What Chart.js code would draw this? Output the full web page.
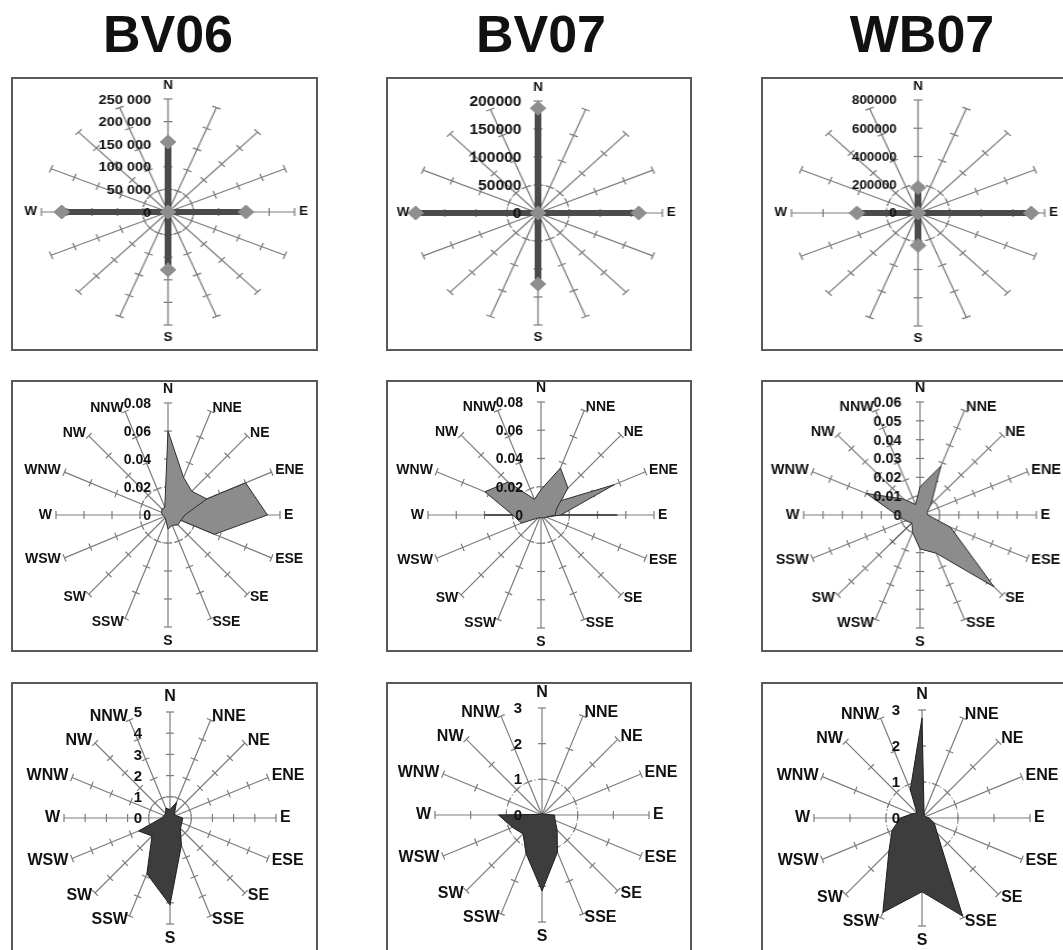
<!DOCTYPE html>
<html>
<head>
<meta charset="utf-8">
<script src="https://cdn.jsdelivr.net/npm/chart.js@4.4.1/dist/chart.umd.min.js"></script>
<style>
  html, body { margin: 0; padding: 0; background: #fff; overflow: hidden; }
  body { width: 1063px; height: 950px; position: relative; font-family: "Liberation Sans", Arial, sans-serif; }
  .title { position: absolute; top: 4px; width: 240px; text-align: center; font-weight: bold; font-size: 52px; line-height: 60px; color: #111; }
  .box { position: absolute; box-sizing: border-box; border: 2px solid #5a5a5a; background: #fff; }
  canvas { position: absolute; }
</style>
</head>
<body>
<div class="title" style="left:48px">BV06</div>
<div class="title" style="left:421px">BV07</div>
<div class="title" style="left:802px">WB07</div>

<div class="box" style="left:11px;top:77px;width:307px;height:274px"></div>
<div class="box" style="left:386px;top:77px;width:306px;height:274px"></div>
<div class="box" style="left:761px;top:77px;width:320px;height:274px"></div>
<div class="box" style="left:11px;top:380px;width:307px;height:272px"></div>
<div class="box" style="left:386px;top:380px;width:306px;height:272px"></div>
<div class="box" style="left:761px;top:380px;width:320px;height:272px"></div>
<div class="box" style="left:11px;top:682px;width:307px;height:300px"></div>
<div class="box" style="left:386px;top:682px;width:306px;height:300px"></div>
<div class="box" style="left:761px;top:682px;width:320px;height:300px"></div>

<script>
// direction labels
const dirs = ['N','NNE','NE','ENE','E','ESE','SE','SSE','S','SSW','SW','WSW','W','WNW','NW','NNW'];
// WB07 frequency panel prints WSW / SSW swapped, kept as in the figure
const dirsWB07 = ['N','NNE','NE','ENE','E','ESE','SE','SSE','S','WSW','SW','SSW','W','WNW','NW','NNW'];
const dirsCardinal = ['N','','','','E','','','','S','','','','W','','',''];

// row 1 : counts per main direction
const bv06Counts = [155000,0,0,0,154000,0,0,0,128000,0,0,0,210000,0,0,0];
const bv07Counts = [187000,0,0,0,162000,0,0,0,127000,0,0,0,197000,0,0,0];
const wb07Counts = [180000,0,0,0,716000,0,0,0,230000,0,0,0,386000,0,0,0];
const bv06CountTicks = ['0','50 000','100 000','150 000','200 000','250 000'];
const bv07CountTicks = ['0','50000','100000','150000','200000'];
const wb07CountTicks = ['0','200000','400000','600000','800000'];

// row 2 : relative frequency (overlaid series)
const bv06FreqA = [0.060,0.029,0.024,0.030,0.012,0.010,0.010,0.008,0.010,0.004,0.003,0.003,0.004,0.005,0.006,0.006];
const bv06FreqB = [0,0,0,0.060,0.071,0.036,0,0,0,0,0,0,0,0,0,0];
const bv07FreqA = [0.018,0.036,0.027,0.012,0.010,0.004,0.003,0.002,0.002,0.002,0.003,0.015,0.020,0.043,0.033,0.012];
const bv07FreqB = [0,0.008,0.012,0.056,0.014,0.004,0,0,0,0,0,0,0,0,0,0];
const bv07FreqC = [0,0,0,0,0.054,0,0,0,0,0,0,0,0.040,0,0,0];
const wb07FreqA = [0.015,0.028,0.008,0.004,0.004,0.017,0.054,0.022,0.018,0.010,0.006,0.008,0.012,0.030,0.012,0.006];
const wb07FreqB = [0,0,0,0,0,0.006,0.033,0.010,0,0,0.022,0,0,0,0,0];
const freqTicks08 = ['0','0.02','0.04','0.06','0.08'];
const freqTicks06 = ['0','0.01','0.02','0.03','0.04','0.05','0.06'];

// row 3 : mean value per direction
const bv06Speed = [0.4,0.8,0.3,0.3,0.6,0.6,0.7,1.4,4.1,2.85,1.2,1.6,0.4,0.3,0.3,0.5];
const bv07Speed = [0.05,0.05,0.05,0.05,0.35,0.4,0.6,1.13,2.13,1.17,0.75,0.9,1.22,0.05,0.05,0.05];
const wb07Speed = [2.78,0.15,0.1,0.1,0.2,0.37,0.6,2.95,2.05,2.84,1.3,0.9,0.6,0.3,0.2,0.85];
const speedTicks5 = ['0','1','2','3','4','5'];
const speedTicks3 = ['0','1','2','3'];

const FONT = '"Liberation Sans", Arial, sans-serif';
const MARGIN = 60;
const SPOKE = '#7c7c7c';

// spoke tick marks + excel-like labels
const excelRadarAxes = {
  id: 'excelRadarAxes',
  beforeDatasetsDraw(chart, args, opts) {
    const scale = chart.scales.r;
    const ctx = chart.ctx;
    const n = chart.data.labels.length;
    ctx.save();
    ctx.strokeStyle = SPOKE;
    ctx.lineWidth = 1.2;
    scale.ticks.forEach(t => {
      if (t.value <= 0) return;
      const d = scale.getDistanceFromCenterForValue(t.value);
      for (let i = 0; i < n; i++) {
        const a = scale.getIndexAngle(i);
        const p = scale.getPointPosition(i, d);
        const nx = Math.cos(a) * 4, ny = Math.sin(a) * 4;
        ctx.beginPath();
        ctx.moveTo(p.x - nx, p.y - ny);
        ctx.lineTo(p.x + nx, p.y + ny);
        ctx.stroke();
      }
    });
    ctx.restore();
  },
  afterDatasetsDraw(chart, args, opts) {
    const scale = chart.scales.r;
    const ctx = chart.ctx;
    ctx.save();
    ctx.fillStyle = '#111';
    // direction names
    ctx.font = 'bold ' + opts.labelSize + 'px ' + FONT;
    chart.data.labels.forEach((lab, i) => {
      if (!lab) return;
      const a = scale.getIndexAngle(i);
      const s = Math.sin(a), c = Math.cos(a);
      const vertical = Math.abs(s) < 0.1;
      const p = scale.getPointPosition(i, scale.drawingArea + (vertical ? 7 : 4));
      ctx.textAlign = vertical ? 'center' : (s > 0 ? 'left' : 'right');
      ctx.textBaseline = vertical ? (c > 0 ? 'bottom' : 'top') : 'middle';
      ctx.fillText(lab, p.x, p.y);
    });
    // value labels beside the north spoke
    ctx.font = 'bold ' + opts.tickSize + 'px ' + FONT;
    ctx.textAlign = 'right';
    ctx.textBaseline = 'middle';
    opts.tickLabels.forEach(lab => {
      const v = parseFloat(lab.replace(/ /g, ''));
      const y = scale.yCenter - scale.getDistanceFromCenterForValue(v);
      ctx.fillText(lab, scale.xCenter - opts.tickOffset, y + 1);
    });
    ctx.restore();
  }
};

function tickValue(lab) { return parseFloat(lab.replace(/ /g, '')); }

function makeRose(cx, cy, r, stretch, labels, datasets, tickLabels, sizes) {
  const size = 2 * (r + MARGIN);
  const cv = document.createElement('canvas');
  cv.width = size;
  cv.height = size;
  cv.style.left = (cx - size / 2) + 'px';
  cv.style.top = (cy - size / 2) + 'px';
  if (stretch !== 1) cv.style.transform = 'scaleX(' + stretch + ')';
  document.body.appendChild(cv);
  return new Chart(cv, {
    type: 'radar',
    data: { labels: labels, datasets: datasets },
    options: {
      responsive: false,
      animation: false,
      layout: { padding: MARGIN },
      elements: { line: { tension: 0 } },
      plugins: {
        legend: { display: false },
        tooltip: { enabled: false },
        excelRadarAxes: {
          tickLabels: tickLabels,
          labelSize: sizes[0],
          tickSize: sizes[1],
          tickOffset: sizes[2]
        }
      },
      scales: {
        r: {
          min: 0,
          max: tickValue(tickLabels[tickLabels.length - 1]),
          ticks: { display: false, stepSize: tickValue(tickLabels[1]) },
          pointLabels: { display: false },
          angleLines: { color: SPOKE, lineWidth: 1.2 },
          grid: { circular: true, lineWidth: 1, color: c => c.index === 1 ? '#8f8f8f' : 'transparent' },
          border: { dash: [2, 2] }
        }
      }
    },
    plugins: [excelRadarAxes]
  });
}

function countSet(values) {
  return [{
    data: values, fill: false, borderColor: '#4b4b4b', borderWidth: 6,
    pointStyle: 'rectRot', pointRadius: 7, pointBackgroundColor: '#8e8e8e',
    pointBorderColor: '#8e8e8e', pointBorderWidth: 1
  }];
}
function areaSets(list, fillColor, lineColor) {
  return list.map(v => ({
    data: v, fill: true, backgroundColor: fillColor, borderColor: lineColor,
    borderWidth: 1, pointRadius: 0
  }));
}

//------------------------------------------------- row 1 : counts
makeRose(168, 212, 113, 1.12, dirsCardinal, countSet(bv06Counts), bv06CountTicks, [12, 13, 15]);
makeRose(538, 213, 112, 1.11, dirsCardinal, countSet(bv07Counts), bv07CountTicks, [12, 14, 15]);
makeRose(918, 213, 113, 1.12, dirsCardinal, countSet(wb07Counts), wb07CountTicks, [12, 12, 19]);

//------------------------------------------------- row 2 : frequency
makeRose(168, 515, 112, 1, dirs, areaSets([bv06FreqA, bv06FreqB], '#8c8c8c', '#2e2e2e'), freqTicks08, [14, 14, 17]);
makeRose(541, 515, 113, 1, dirs, areaSets([bv07FreqA, bv07FreqB, bv07FreqC], '#8c8c8c', '#2e2e2e'), freqTicks08, [14, 14, 18]);
makeRose(920, 515, 113, 1.03, dirsWB07, areaSets([wb07FreqA, wb07FreqB], '#8c8c8c', '#2e2e2e'), freqTicks06, [14, 14, 18]);

//------------------------------------------------- row 3 : mean per direction
makeRose(170, 818, 106, 1, dirs, areaSets([bv06Speed], '#3d3d3d', '#1e1e1e'), speedTicks5, [16, 15, 28]);
makeRose(542, 815, 107, 1, dirs, areaSets([bv07Speed], '#3d3d3d', '#1e1e1e'), speedTicks3, [16, 15, 20]);
makeRose(922, 818, 108, 1, dirs, areaSets([wb07Speed], '#3d3d3d', '#1e1e1e'), speedTicks3, [16, 15, 22]);
</script>
</body>
</html>
